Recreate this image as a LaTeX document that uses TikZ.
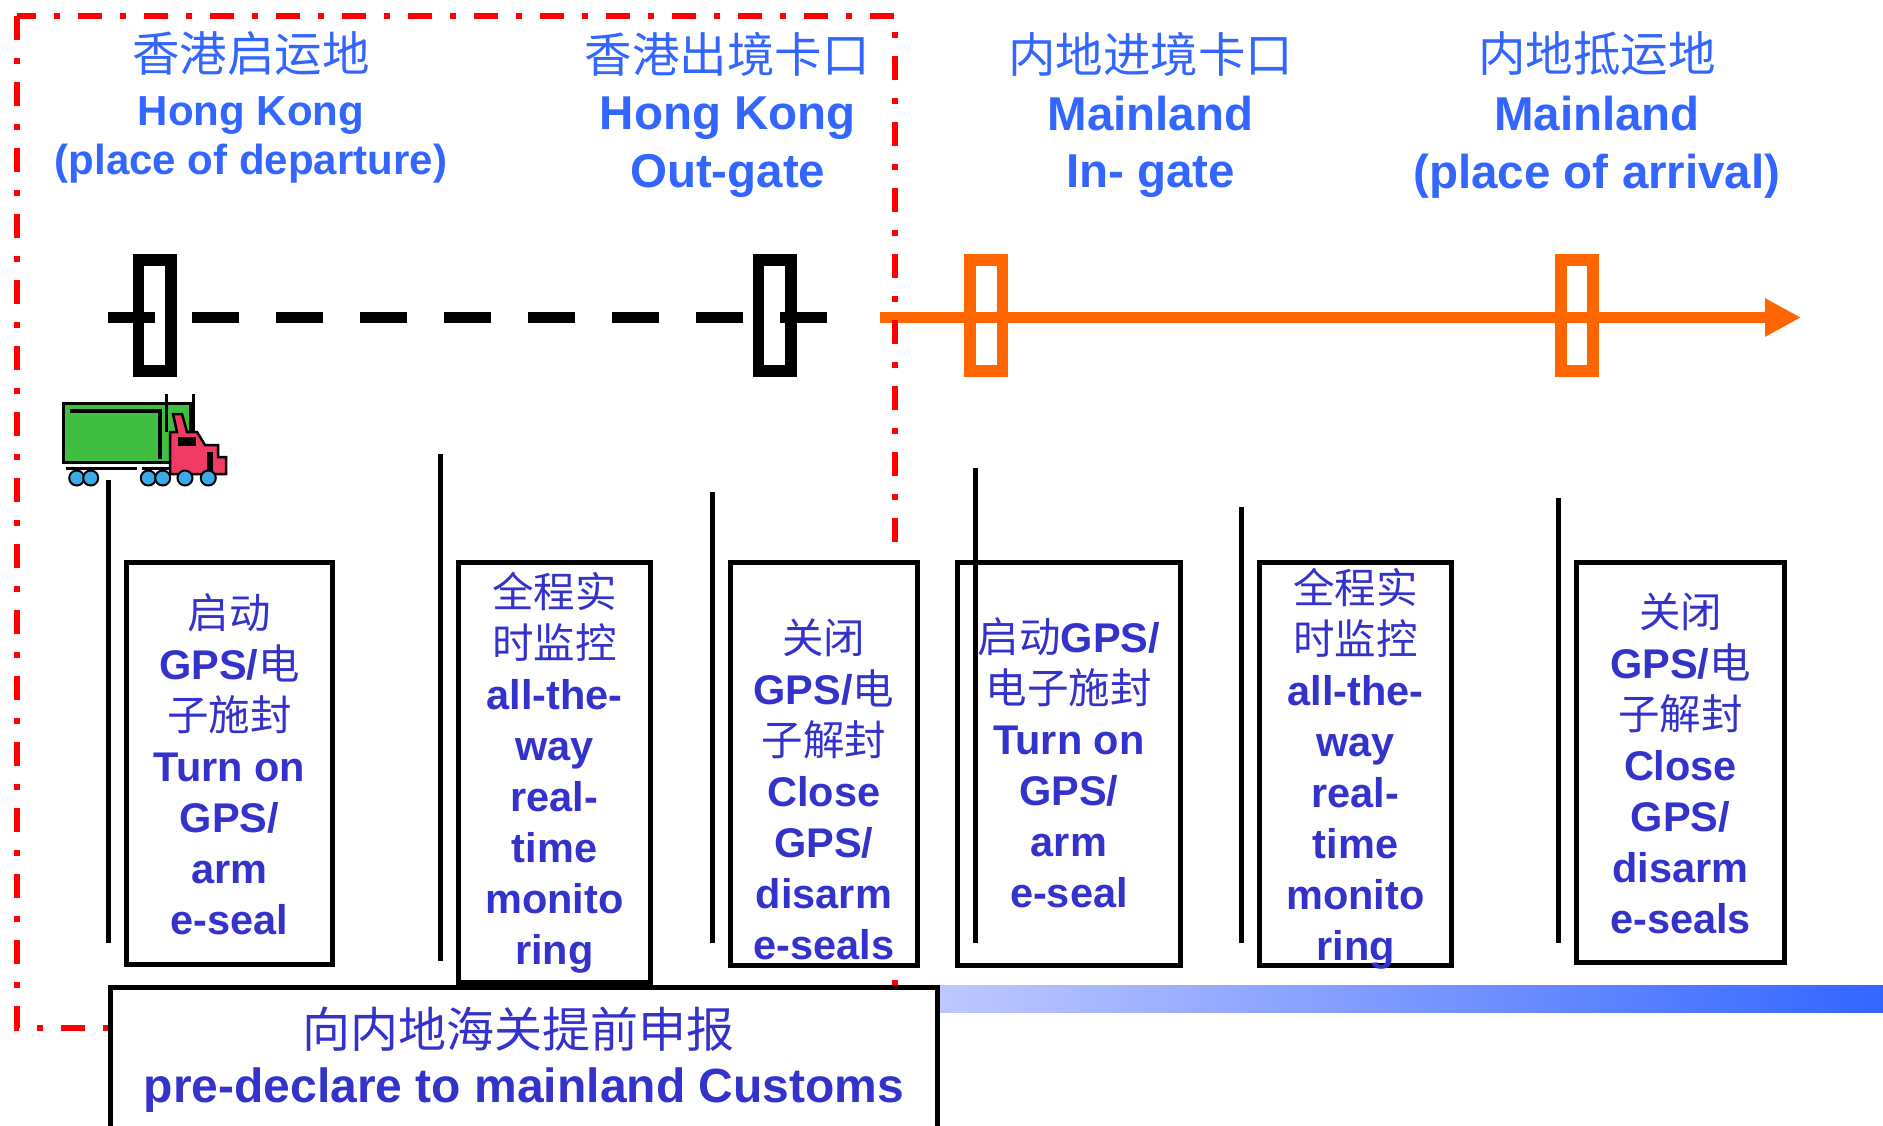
\documentclass[tikz,border=0pt]{standalone}
\usepackage{fontspec}
\setmainfont{Liberation Sans}
\newfontfamily\cjk{Noto Sans CJK SC}
\usetikzlibrary{arrows.meta}

\definecolor{titleblue}{RGB}{51,102,255}
\definecolor{textblue}{RGB}{51,51,204}
\definecolor{gateorange}{RGB}{255,102,0}
\definecolor{borderred}{RGB}{255,0,0}
\definecolor{trailergreen}{RGB}{64,190,64}
\definecolor{cabpink}{RGB}{240,60,100}
\definecolor{wheelblue}{RGB}{60,170,230}
\definecolor{barlight}{RGB}{192,200,255}
\definecolor{bardark}{RGB}{51,102,255}

% Chinese text in regular weight inside bold Latin text
\newcommand\zh[1]{{\cjk\mdseries #1}}

\begin{document}
\begin{tikzpicture}[
  x=1pt, y=-1pt,
  titlezh/.style={inner sep=0pt, text=titleblue, font=\cjk\fontsize{47.5}{57}\selectfont},
  titleen/.style={inner sep=0pt, text=titleblue, align=center, font=\bfseries\fontsize{47.5}{57.5}\selectfont},
  titleensmall/.style={titleen, font=\bfseries\fontsize{42}{49.5}\selectfont},
  gatemark/.style={draw=black, line width=11.7pt, minimum width=32.3pt, minimum height=111.5pt, inner sep=0pt},
  gatemarkor/.style={gatemark, draw=gateorange},
  hkline/.style={draw=black, line width=11.7pt, dash pattern=on 47.3pt off 36.7pt},
  mlline/.style={draw=gateorange, line width=11.7pt, -{Triangle[length=36pt,width=36pt]}},
  redborder/.style={draw=borderred, line width=6pt, dash pattern=on 24pt off 18pt on 6pt off 18pt},
  stepbox/.style={draw=black, line width=5pt, fill=white, inner sep=0pt},
  boxtext/.style={inner sep=0pt, text=textblue, align=center, font=\bfseries\fontsize{41.5}{51}\selectfont},
  declzh/.style={inner sep=0pt, text=textblue, font=\cjk\fontsize{48}{58}\selectfont},
  declen/.style={inner sep=0pt, text=textblue, font=\bfseries\fontsize{48}{58}\selectfont},
  vline/.style={draw=black, line width=5pt},
]
\useasboundingbox (0,0) rectangle (1883,1125);
\fill[white] (0,0) rectangle (1883,1125);

% ---- Hong Kong section: dashed route with two gate markers
\coordinate (hkstart) at (108,317.5);
\coordinate (hkend) at (828,317.5);
\draw[hkline] (hkstart) -- (hkend);
\node[gatemark] (g1) at (154.7,315.5) {};
\node[gatemark] (g2) at (774.7,315.5) {};

% ---- Mainland section: solid orange route with arrow
\coordinate (mlstart) at (880,317.5);
\coordinate (mlend) at (1801,317.5);
\draw[mlline] (mlstart) -- (mlend);
\node[gatemarkor] (g3) at (986.3,315.5) {};
\node[gatemarkor] (g4) at (1577,315.5) {};

% ---- Hong Kong zone frame
\draw[redborder] (17,15.6) rectangle (895,1028);

% ---- truck
\draw[line width=3pt, fill=trailergreen] (63,403) rectangle (190,462);
\draw[line width=4pt] (70,411) -- (160,411) -- (160,459);
\draw[line width=3pt] (166,394) -- (166,432);
\draw[line width=3pt] (193,394) -- (193,432);
\draw[line width=3pt] (66,468) -- (137,468);
\draw[line width=3pt] (142,468) -- (172,468);
\draw[line width=2.5pt, fill=cabpink] (170,474) -- (170,432) -- (177,432) -- (173,414) -- (182,414)
  -- (187,432) -- (197,432) -- (205,445) -- (218,445) -- (218,457) -- (226,457) -- (226,474) -- cycle;
\fill (178,437) rectangle (196,446);
\fill (207,452) rectangle (213,472);
\foreach \wx in {76.7,90.7,148.3,162.7,185,208.3}
  \draw[line width=2pt, fill=wheelblue] (\wx,478) circle (7.5pt);

% ---- titles
\node[titlezh] (t1zh) at (251,54) {香港启运地};
\node[titleensmall] (t1en) at (251,140) {Hong Kong\\(place of departure)};
\node[titlezh] (t2zh) at (727,54) {香港出境卡口};
\node[titleen] (t2en) at (727.7,147) {Hong Kong\\Out-gate};
\node[titlezh] (t3zh) at (1150.5,54) {内地进境卡口};
\node[titleen] (t3en) at (1150.5,147) {Mainland\\In- gate};
\node[titlezh] (t4zh) at (1597,54) {内地抵运地};
\node[titleen] (t4en) at (1597,147) {Mainland\\(place of arrival)};

% ---- step boxes
\node[stepbox, minimum width=206.3pt, minimum height=402pt] (b1) at (229.4,763.2) {};
\node[stepbox, minimum width=192pt, minimum height=420.4pt] (b2) at (554.5,772.3) {};
\node[stepbox, minimum width=187.3pt, minimum height=403.4pt] (b3) at (823.9,763.8) {};
\node[stepbox, minimum width=223.3pt, minimum height=403.4pt] (b4) at (1068.9,763.8) {};
\node[stepbox, minimum width=192pt, minimum height=403.4pt] (b5) at (1355.5,763.8) {};
\node[stepbox, minimum width=208pt, minimum height=400.4pt] (b6) at (1680.5,762.3) {};

\node[boxtext] (b1t) at (229.4,764) {\zh{启动}\\GPS/\zh{电}\\\zh{子施封}\\Turn on\\GPS/\\arm\\e-seal};
\node[boxtext] (b2t) at (554.5,773) {\zh{全程实}\\\zh{时监控}\\all-the-\\way\\real-\\time\\monito\\ring};
\node[boxtext] (b3t) at (823.9,789) {\zh{关闭}\\GPS/\zh{电}\\\zh{子解封}\\Close\\GPS/\\disarm\\e-seals};
\node[boxtext] (b4t) at (1068.9,763) {\zh{启动}GPS/\\\zh{电子施封}\\Turn on\\GPS/\\arm\\e-seal};
\node[boxtext] (b5t) at (1355.5,769) {\zh{全程实}\\\zh{时监控}\\all-the-\\way\\real-\\time\\monito\\ring};
\node[boxtext] (b6t) at (1680.5,763) {\zh{关闭}\\GPS/\zh{电}\\\zh{子解封}\\Close\\GPS/\\disarm\\e-seals};

% ---- time lines
\coordinate (v1a) at (108,480);    \coordinate (v1b) at (108,943);
\coordinate (v2a) at (440.7,454);  \coordinate (v2b) at (440.7,961);
\coordinate (v3a) at (712,492);    \coordinate (v3b) at (712,943);
\coordinate (v4a) at (975,468);    \coordinate (v4b) at (975,943);
\coordinate (v5a) at (1241.7,507); \coordinate (v5b) at (1241.7,943);
\coordinate (v6a) at (1558.7,498); \coordinate (v6b) at (1558.7,943);
\draw[vline] (v1a) -- (v1b);
\draw[vline] (v2a) -- (v2b);
\draw[vline] (v3a) -- (v3b);
\draw[vline] (v4a) -- (v4b);
\draw[vline] (v5a) -- (v5b);
\draw[vline] (v6a) -- (v6b);

% ---- pre-declaration band
\shade[left color=barlight, right color=bardark] (935,985) rectangle (1883,1012);
\node[stepbox, minimum width=827pt, minimum height=200pt, anchor=north] (decl) at (524,984.5) {};
\node[declzh] (declzh) at (518,1029) {向内地海关提前申报};
\node[declen] (declen) at (524,1090) {pre-declare to mainland Customs};
\end{tikzpicture}
\end{document}
